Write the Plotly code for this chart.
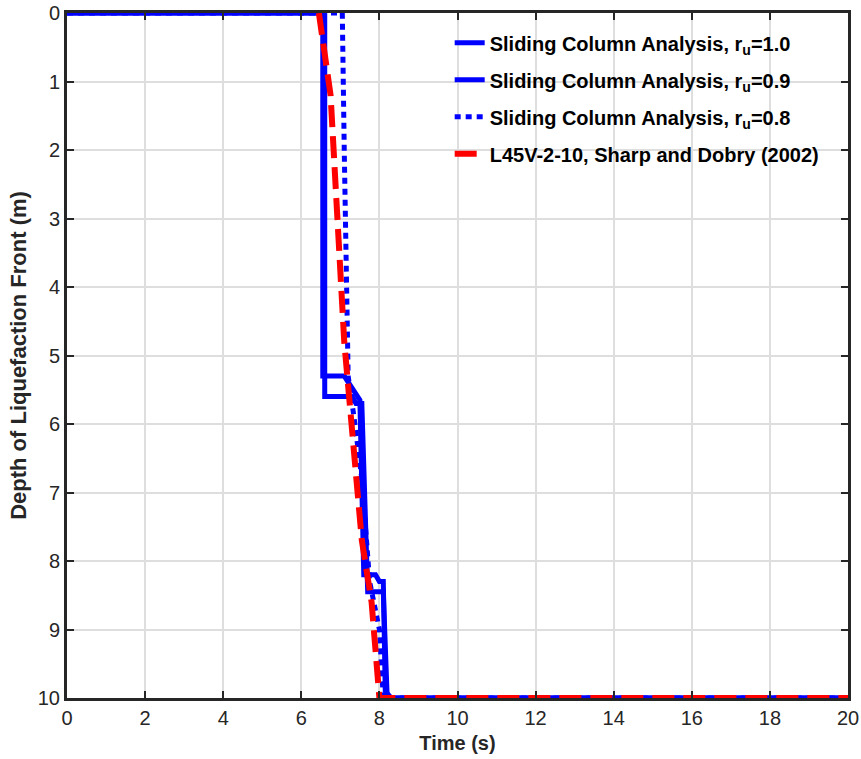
import plotly.graph_objects as go

# r_u = 1.0
t_ru10 = [0, 6.55, 6.55, 7.1, 7.5, 7.5, 7.6, 7.9, 8.0, 8.1, 8.15, 8.3, 20]
d_ru10 = [0, 0, 5.3, 5.3, 5.65, 5.65, 8.2, 8.2, 8.3, 8.3, 9.9, 10, 10]
# r_u = 0.9
t_ru09 = [0, 6.6, 6.6, 7.3, 7.4, 7.55, 7.7, 8.1, 8.2, 20]
d_ru09 = [0, 0, 5.6, 5.6, 5.7, 5.7, 8.45, 8.45, 10, 10]
# r_u = 0.8
t_ru08 = [0, 7.05, 7.1, 7.2, 7.35, 7.55, 7.75, 8.0, 8.1, 20]
d_ru08 = [0, 0, 2.0, 5.3, 5.9, 6.8, 8.3, 9.0, 10, 10]
# Sharp and Dobry (2002)
t_exp = [6.45, 6.75, 7.1, 7.4, 7.55, 7.8, 8.0, 20]
d_exp = [0, 1.2, 4.8, 6.8, 7.7, 8.6, 10, 10]

x_ticks = list(range(0, 21, 2))
y_ticks = list(range(0, 11, 1))

FONT = "Liberation Sans, Arial, sans-serif"

fig = go.Figure()
fig.add_trace(go.Scatter(x=t_ru10, y=d_ru10, mode="lines", legendgroup="a",
                         line=dict(color="#0000ff", width=5),
                         name="<b>Sliding Column Analysis, r<sub>u</sub>=1.0</b>"))
fig.add_trace(go.Scatter(x=t_ru09, y=d_ru09, mode="lines", legendgroup="b",
                         line=dict(color="#0000ff", width=5),
                         name="<b>Sliding Column Analysis, r<sub>u</sub>=0.9</b>"))
fig.add_trace(go.Scatter(x=t_ru08, y=d_ru08, mode="lines", legendgroup="c",
                         line=dict(color="#0000ff", width=5, dash="6px,5px"),
                         name="<b>Sliding Column Analysis, r<sub>u</sub>=0.8</b>"))
fig.add_trace(go.Scatter(x=t_exp, y=d_exp, mode="lines", legendgroup="d",
                         line=dict(color="#ff0000", width=6, dash="22px,9px"),
                         name="<b>L45V-2-10, Sharp and Dobry (2002)</b>"))

axis_common = dict(
    showline=True, linecolor="#262626", linewidth=3, mirror="ticks",
    ticks="inside", ticklen=7, tickwidth=2, tickcolor="#262626",
    showgrid=True, gridcolor="#dedede", gridwidth=2, zeroline=False,
    automargin=False,
    tickfont=dict(family=FONT, size=20, color="#262626"),
)

fig.update_layout(
    width=861, height=759,
    margin=dict(l=67, r=13, t=13, b=61),
    plot_bgcolor="white", paper_bgcolor="white",
    xaxis=dict(range=[0, 20], tickvals=x_ticks,
               title=dict(text="<b>Time (s)</b>", standoff=8,
                          font=dict(family=FONT, size=20, color="#262626")),
               **axis_common),
    yaxis=dict(range=[10, 0], tickvals=y_ticks,
               title=dict(text="<b>Depth of Liquefaction Front (m)</b>", standoff=6,
                          font=dict(family=FONT, size=22, color="#262626")),
               **axis_common),
    legend=dict(x=0.49, y=0.985, xanchor="left", yanchor="top",
                bgcolor="rgba(255,255,255,0)", borderwidth=0,
                font=dict(family=FONT, size=20, color="black"),
                itemwidth=30, tracegroupgap=8),
    showlegend=True,
)

fig.write_html("out.html")
